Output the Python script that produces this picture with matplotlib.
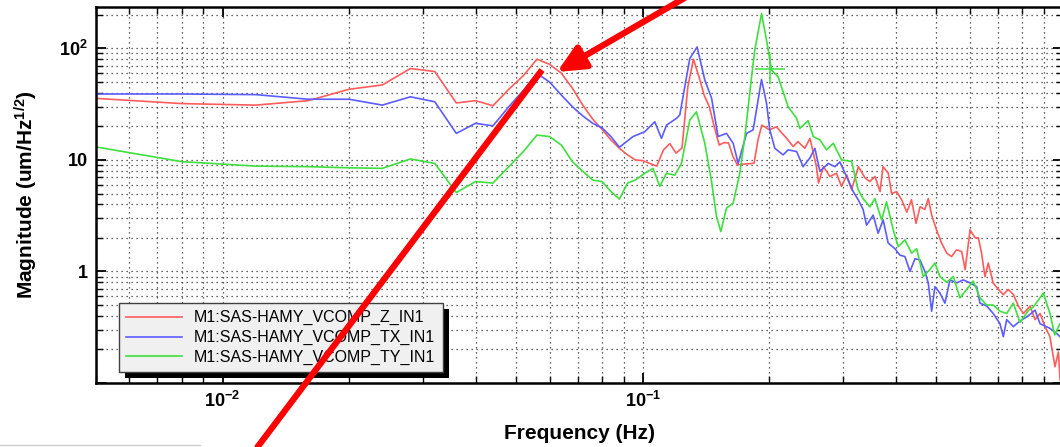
import matplotlib
matplotlib.use('Agg')
import matplotlib.pyplot as plt
from matplotlib.ticker import LogLocator, FuncFormatter, NullFormatter
from matplotlib.lines import Line2D
from matplotlib.patches import FancyArrowPatch, Rectangle
from matplotlib.transforms import IdentityTransform

plt.rcParams['font.family'] = ['Liberation Sans', 'DejaVu Sans']
plt.rcParams['mathtext.fontset'] = 'custom'
plt.rcParams['mathtext.rm'] = 'Liberation Sans:bold'
plt.rcParams['mathtext.bf'] = 'Liberation Sans:bold'
plt.rcParams['mathtext.it'] = 'Liberation Sans:bold:italic'

W, H = 1060, 447

labels = ['M1:SAS-HAMY_VCOMP_Z_IN1', 'M1:SAS-HAMY_VCOMP_TX_IN1', 'M1:SAS-HAMY_VCOMP_TY_IN1']
colors = ['#ff5c5c', '#5c5cff', '#3de03d']

# Z channel (red)
freq_z = [0.004, 0.008, 0.012, 0.016, 0.020, 0.024, 0.028, 0.032, 0.036, 0.040,
          0.044, 0.048, 0.052, 0.056, 0.060, 0.064, 0.068, 0.072, 0.076, 0.080,
          0.084, 0.088, 0.092, 0.096, 0.100, 0.104, 0.108, 0.112, 0.116, 0.120,
          0.124, 0.128, 0.132, 0.136, 0.140, 0.144, 0.148, 0.152, 0.156, 0.160,
          0.164, 0.168, 0.172, 0.176, 0.180, 0.184, 0.188, 0.192, 0.196, 0.200,
          0.204, 0.208,
          0.220, 0.228, 0.234, 0.243, 0.250, 0.259, 0.262, 0.269, 0.279, 0.289,
          0.297, 0.306, 0.314, 0.320, 0.326, 0.338, 0.347, 0.357, 0.367, 0.373,
          0.384, 0.391, 0.402, 0.413, 0.425, 0.436, 0.447, 0.457, 0.469, 0.478,
          0.487, 0.500, 0.514, 0.529, 0.543, 0.558, 0.574, 0.585, 0.601, 0.618,
          0.629, 0.640, 0.652, 0.664, 0.682, 0.702, 0.721, 0.741, 0.762, 0.783,
          0.805, 0.835, 0.858, 0.882, 0.906, 0.931, 0.957, 0.975, 0.984, 1.0]
mag_z = [37.5, 32, 31, 34, 43, 47, 66, 62, 32.4, 34,
         30.6, 43, 57, 80, 72, 60, 44, 31, 23.2, 18.8,
         15.1, 12.7, 11.1, 10, 9.85, 9.3, 8.8, 12.3, 14, 11.5,
         12.8, 45, 80, 56, 38, 30, 19.8, 13.6, 14.3, 14.2,
         10.7, 9.0, 9.15, 9.2, 9.25, 9.35, 15.1, 20.5, 19.6, 18.6,
         19.2, 19.8,
         15.6, 13.2, 14.6, 12.7, 15.6, 8.7, 6.2, 8.7, 7.1, 7.6,
         5.8, 7.3, 5.4, 6.9, 8.7, 6.9, 6.4, 7.1, 5.2, 8.7,
         7.6, 5.0, 5.2, 4.4, 3.4, 4.4, 2.7, 3.8, 3.6, 4.5,
         3.2, 2.36, 1.8, 1.46, 1.36, 1.56, 1.51, 1.04, 2.36, 2.0,
         2.0, 1.46, 0.90, 1.19, 0.79, 0.69, 0.62, 0.69, 0.62, 0.49,
         0.42, 0.49, 0.37, 0.42, 0.32, 0.26, 0.14, 0.19, 0.107, 0.09]

# TX channel (blue)
freq_tx = [0.004, 0.008, 0.012, 0.016, 0.020, 0.024, 0.028, 0.032, 0.036, 0.040,
           0.044, 0.048, 0.052, 0.056, 0.060, 0.064, 0.068, 0.072, 0.076, 0.080,
           0.084, 0.088,
           0.0948, 0.1011, 0.1068, 0.1108, 0.1139, 0.1203, 0.1225, 0.1294, 0.1347, 0.1405,
           0.1458, 0.1511, 0.1582, 0.1641, 0.1687, 0.1766, 0.1831, 0.1917, 0.1970, 0.2006,
           0.2062, 0.2158, 0.2218, 0.2323, 0.2408, 0.2498, 0.2568, 0.2640, 0.2762, 0.2866,
           0.2944, 0.3055, 0.3168, 0.3255, 0.3344, 0.3409, 0.3534, 0.3632, 0.3733, 0.3837,
           0.3981, 0.4092, 0.4206, 0.4324, 0.4443, 0.4566, 0.4693, 0.4779, 0.4869, 0.4957,
           0.5095, 0.5236, 0.5383, 0.5585, 0.5790, 0.6008, 0.6232, 0.6346, 0.6583, 0.6823,
           0.7079, 0.7210, 0.7345, 0.7616, 0.7903, 0.8270, 0.8580, 0.8818, 0.9297, 0.9638,
           0.9837, 1.0]
mag_tx = [39, 39, 38.5, 35, 35, 31, 36.8, 33.2, 17.3, 21.3,
          20.2, 30, 42, 59.6, 50, 38.2, 30, 24.8, 21.3, 19.4,
          16.2, 13.0,
          16.2, 17.9, 22, 15.6, 20.5, 23.6, 25.3, 81, 103, 52,
          35.8, 16.2, 17.3, 14.1, 9.3, 17.3, 18.6, 52.7, 32.3, 18.6,
          12.7, 11.1, 12.3, 11.9, 8.7, 10.4, 12.7, 7.9, 9.3, 8.7,
          9.6, 7.1, 5.2, 4.4, 3.6, 2.6, 3.2, 2.2, 2.9, 1.8,
          1.6, 1.4, 1.36, 1.0, 1.3, 1.27, 1.0, 0.79, 0.44, 0.73,
          0.64, 0.52, 0.84, 0.79, 0.84, 0.79, 0.73, 0.52, 0.49, 0.42,
          0.34, 0.26, 0.37, 0.32, 0.36, 0.40, 0.45, 0.34, 0.31, 0.28,
          0.26, 0.25]

# TY channel (green)
freq_ty = [0.004, 0.008, 0.012, 0.016, 0.020, 0.024, 0.028, 0.032, 0.036, 0.040,
           0.044, 0.048, 0.052, 0.056, 0.060, 0.064, 0.068, 0.072, 0.076, 0.080,
           0.084, 0.088, 0.092, 0.096,
           0.1011, 0.1058, 0.1098, 0.1139, 0.1192, 0.1236, 0.1294, 0.1342, 0.1405, 0.1458,
           0.1498, 0.1534, 0.1582, 0.1641, 0.1702, 0.1750, 0.1815, 0.1848, 0.1917, 0.1970,
           0.2025, 0.2099, 0.2218, 0.2323, 0.2365, 0.2475, 0.2545, 0.2640, 0.2737, 0.2840,
           0.2973, 0.3140, 0.3255, 0.3344, 0.3471, 0.3567, 0.3701, 0.3803, 0.3945, 0.4054,
           0.4206, 0.4364, 0.4485, 0.4649, 0.4823, 0.4957, 0.5095, 0.5287, 0.5483, 0.5685,
           0.5897, 0.6115, 0.6346, 0.6583, 0.6823, 0.7079, 0.7345, 0.7616, 0.7903, 0.8286,
           0.8501, 0.8979, 0.9312, 0.9554, 0.9837, 1.0]
mag_ty = [15.1, 9.65, 8.8, 8.7, 8.5, 8.4, 10.2, 9.3, 5.1, 6.4,
          6.2, 8.7, 11.9, 16.7, 16.2, 13.6, 9.65, 7.9, 6.6, 6.4,
          5.2, 4.45, 6.2, 6.6,
          7.6, 8.4, 5.8, 7.6, 7.3, 9.3, 22.8, 27, 14.1, 6.4,
          3.1, 2.28, 3.7, 4.1, 7.6, 16.2, 55.6, 97, 205, 119,
          64, 55.6, 30, 23.6, 19.2, 22.5, 16.2, 15.1, 12.3, 14.1,
          10, 9.7, 5.4, 4.5, 3.8, 4.5, 2.9, 4.2, 2.36, 1.67,
          1.92, 1.46, 1.6, 0.9, 1.04, 1.19, 0.9, 0.8, 0.9, 0.58,
          0.69, 0.82, 0.58, 0.5, 0.5, 0.44, 0.42, 0.52, 0.35, 0.45,
          0.48, 0.64, 0.42, 0.27, 0.34, 0.3]

# green cursor cross
cursor_f, cursor_v = 0.2006, 65

fig = plt.figure(figsize=(W / 100, H / 100), dpi=100)
ax = fig.add_axes([96 / W, 1 - 383 / H, 967 / W, 376 / H])

for f, m, c, lab in zip([freq_z, freq_tx, freq_ty], [mag_z, mag_tx, mag_ty], colors, labels):
    ax.plot(f, m, color=c, lw=1.2, label=lab, solid_joinstyle='round')
ax.plot([cursor_f], [cursor_v], marker='+', color=colors[2], ms=21, mew=1.1, ls='none')

ax.set_xscale('log')
ax.set_yscale('log')
ax.set_xlim(0.005, 1.0)
ax.set_ylim(0.1, 235)

ax.xaxis.set_major_locator(LogLocator(base=10))
ax.xaxis.set_minor_locator(LogLocator(base=10, subs=range(2, 10)))
ax.yaxis.set_major_locator(LogLocator(base=10))
ax.yaxis.set_minor_locator(LogLocator(base=10, subs=range(2, 10)))
ax.xaxis.set_minor_formatter(NullFormatter())
ax.yaxis.set_minor_formatter(NullFormatter())

xlab = {0.01: r'$10^{-2}$', 0.1: r'$10^{-1}$'}
ylab = {100: r'$10^{2}$', 10: '10', 1: '1'}


def fmt_x(v, pos):
    for k, s in xlab.items():
        if abs(v - k) / k < 1e-6:
            return s
    return ''


def fmt_y(v, pos):
    for k, s in ylab.items():
        if abs(v - k) / k < 1e-6:
            return s
    return ''


ax.xaxis.set_major_formatter(FuncFormatter(fmt_x))
ax.yaxis.set_major_formatter(FuncFormatter(fmt_y))

ax.grid(True, which='both', color='0.2', lw=0.9, ls=(0, (1, 3)))
ax.tick_params(which='both', direction='in', top=True, right=True, colors='k')
ax.tick_params(which='major', length=7, width=1.3, pad=6, labelsize=13)
ax.tick_params(which='minor', length=5, width=1.0)
for lbl in ax.get_xticklabels() + ax.get_yticklabels():
    lbl.set_fontweight('bold')
for s in ax.spines.values():
    s.set_linewidth(1.8)

ax.set_xlabel('Frequency (Hz)', fontsize=15, fontweight='bold', labelpad=9)
ax.set_ylabel('Magnitude (um/Hz$^{1/2}$)', fontsize=15, fontweight='bold', labelpad=14)

leg = ax.legend(loc='upper left', bbox_to_anchor=(119 / W, 1 - 303 / H),
                bbox_transform=fig.transFigure, fontsize=11.5, frameon=True,
                fancybox=False, framealpha=1, facecolor='#f0f0f0', edgecolor='#404040',
                handlelength=3.5, handletextpad=0.75, borderpad=0.45, labelspacing=0.3,
                borderaxespad=0)
leg.get_frame().set_linewidth(1.0)
leg.set_zorder(6)

# black drop shadow behind the legend
fig.canvas.draw()
bb = leg.get_window_extent()
ax.add_patch(Rectangle((bb.x0 + 6, bb.y0 - 6), bb.width, bb.height, transform=IdentityTransform(),
                       facecolor='k', edgecolor='none', zorder=5.9, clip_on=False))


# red annotation overlay
def fx(px):
    return px / W


def fy(py):
    return 1 - py / H


fig.add_artist(Line2D([fx(256), fx(542)], [fy(449), fy(70)], transform=fig.transFigure,
                      color='#ff0000', lw=4.5, solid_capstyle='butt'))
fig.add_artist(FancyArrowPatch((fx(700), fy(-11)), (fx(557), fy(72)), transform=fig.transFigure,
                               arrowstyle='-|>,head_length=0.75,head_width=0.35', mutation_scale=22,
                               color='#ff0000', lw=4.5, shrinkA=0, shrinkB=0))
fig.add_artist(Line2D([0, fx(200)], [fy(445), fy(445)], transform=fig.transFigure,
                      color='#cccccc', lw=1))

fig.savefig('out.png', dpi=100, facecolor='white')
